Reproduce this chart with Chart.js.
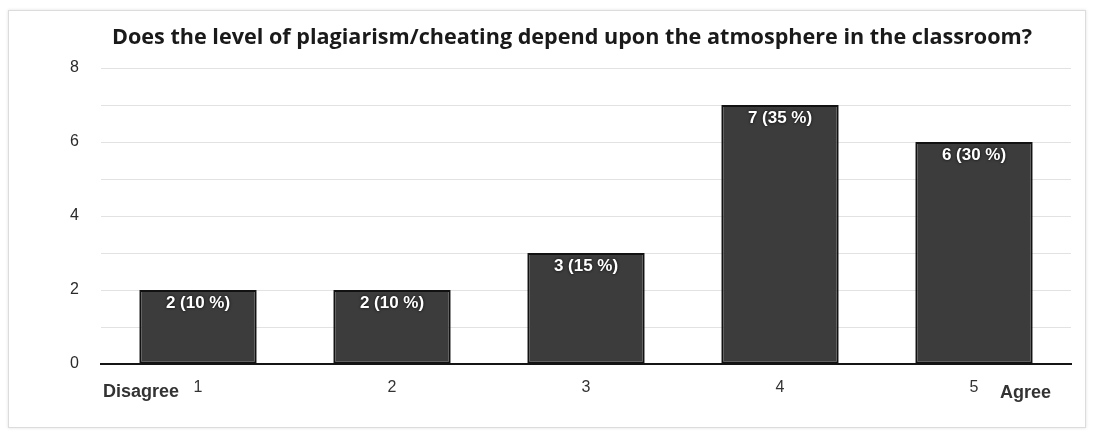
<!DOCTYPE html>
<html lang="en">
<head>
  <meta charset="UTF-8" />
  <title>Plagiarism and classroom atmosphere</title>
  <script src="https://cdn.jsdelivr.net/npm/chart.js"></script>
  <style>
    html, body {
      margin: 0;
      padding: 0;
      background: #fff;
    }
    .card {
      position: absolute;
      left: 8px;
      top: 10px;
      width: 1076px;
      height: 416px;
      border: 1px solid #dcdcdc;
      box-shadow: 0 0 3px rgba(0,0,0,0.12);
    }
    .chart-box {
      position: absolute;
      left: 0;
      top: 0;
      width: 1094px;
      height: 435px;
    }
  </style>
</head>
<body>
  <div class="card"></div>
  <div class="chart-box">
    <canvas id="surveyChart"></canvas>
  </div>

  <script>
    const categories = ['1', '2', '3', '4', '5'];
    const counts = [2, 2, 3, 7, 6];
    const percents = [10, 10, 15, 35, 30];
    const yTicks = [0, 2, 4, 6, 8];
    const chartTitle = 'Does the level of plagiarism/cheating depend upon the atmosphere in the classroom?';

    // title, white labels inside the bars and the scale end words
    const labelPlugin = {
      id: 'barLabels',
      afterDatasetsDraw(chart) {
        const ctx = chart.ctx;
        const meta = chart.getDatasetMeta(0);
        const area = chart.chartArea;

        ctx.save();
        ctx.font = 'bold 21.6px "Open Sans", sans-serif';
        ctx.fillStyle = '#1a1a1a';
        ctx.textAlign = 'center';
        ctx.textBaseline = 'middle';
        ctx.fillText(chartTitle, 572, 38);
        ctx.restore();

        ctx.save();
        ctx.font = 'bold 17px "Liberation Sans", Arial, sans-serif';
        ctx.textAlign = 'center';
        ctx.textBaseline = 'top';
        meta.data.forEach((bar, i) => {
          const text = counts[i] + ' (' + percents[i] + ' %)';
          ctx.shadowColor = 'rgba(0,0,0,0.9)';
          ctx.shadowBlur = 3;
          ctx.fillStyle = '#ffffff';
          ctx.fillText(text, bar.x, bar.y + 5);
        });
        ctx.restore();

        ctx.save();
        ctx.font = 'bold 18px "Liberation Sans", Arial, sans-serif';
        ctx.fillStyle = '#333';
        ctx.textBaseline = 'middle';
        ctx.textAlign = 'left';
        ctx.fillText('Disagree', area.left + 2, area.bottom + 28);
        ctx.fillText('Agree', area.right - 71, area.bottom + 29);
        ctx.restore();
      }
    };

    new Chart(document.getElementById('surveyChart'), {
      type: 'bar',
      data: {
        labels: categories,
        datasets: [{
          data: counts,
          backgroundColor: '#3c3c3c',
          borderColor: '#121212',
          borderWidth: 2,
          borderSkipped: false,
          barPercentage: 0.605,
          categoryPercentage: 1
        }]
      },
      options: {
        responsive: true,
        maintainAspectRatio: false,
        animation: false,
        layout: {
          padding: { left: 0, right: 23, top: 68, bottom: 0 }
        },
        plugins: {
          legend: { display: false },
          tooltip: { enabled: false },
          title: { display: false }
        },
        scales: {
          x: {
            grid: { display: false, drawTicks: false },
            border: { display: true, color: '#151515', width: 2 },
            ticks: {
              color: '#333',
              padding: 14,
              font: { family: '"Liberation Sans", Arial, sans-serif', size: 16 }
            },
            afterFit(scale) { scale.height = 71; }
          },
          y: {
            min: 0,
            max: 8,
            border: { display: false },
            grid: {
              color: '#e2e2e2',
              lineWidth: 1,
              drawTicks: false
            },
            ticks: {
              stepSize: 1,
              padding: 22,
              color: '#2a2a2a',
              font: { family: '"Liberation Sans", Arial, sans-serif', size: 16 },
              callback: v => yTicks.includes(v) ? String(v) : ''
            },
            afterFit(scale) { scale.width = 101; }
          }
        }
      },
      plugins: [labelPlugin]
    });
  </script>
</body>
</html>
